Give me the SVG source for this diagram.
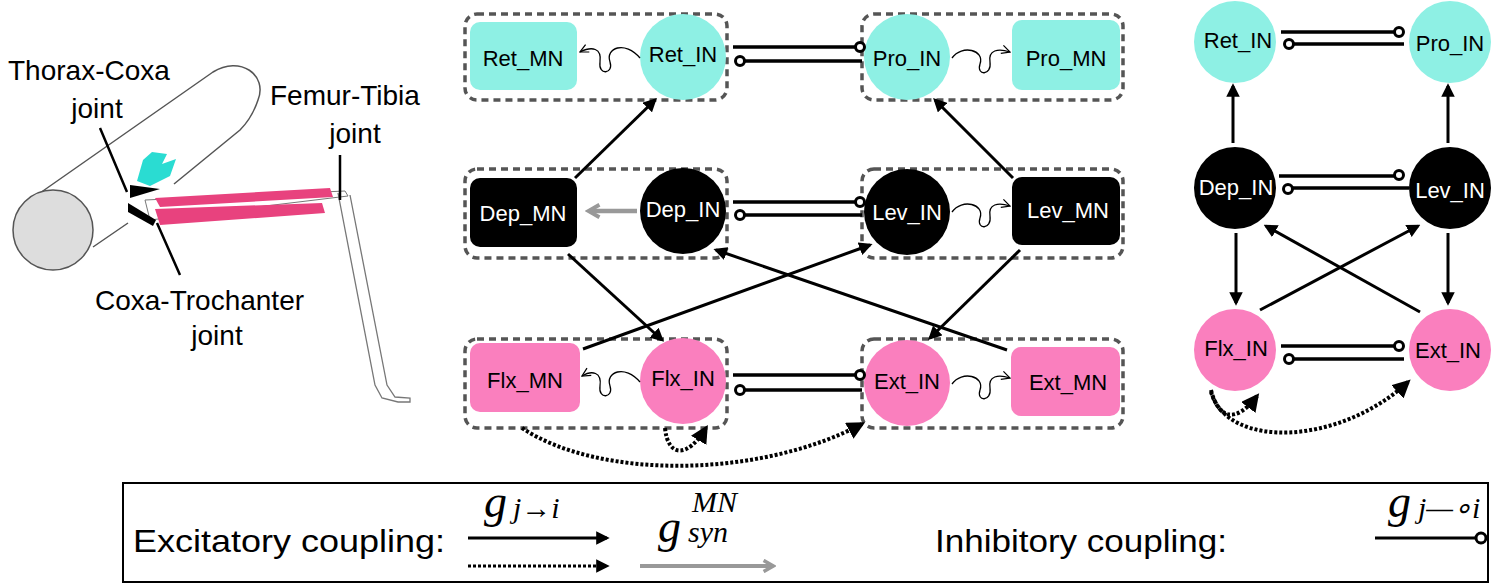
<svg xmlns="http://www.w3.org/2000/svg" width="1500" height="587" viewBox="0 0 1500 587">
<style>
text{font-family:"Liberation Sans",Arial,sans-serif}
.lab{font-size:28px;fill:#000}
.n{font-size:22px;text-anchor:middle;dominant-baseline:central}
.w{fill:#fff}
.cy{fill:#8ef0e4}.pk{fill:#fa7fbe}.bk{fill:#000}
.grp{fill:none;stroke:#555;stroke-width:3.5;stroke-dasharray:7,5}
.ex{stroke:#000;stroke-width:3;fill:none;marker-end:url(#ah)}
.dot{stroke:#000;stroke-width:4;fill:none;stroke-dasharray:3,2;marker-end:url(#ah)}
.inh{stroke:#000;stroke-width:3.5;fill:none}
.oc{fill:#fff;stroke:#000;stroke-width:3}
.curl{stroke:#000;stroke-width:1.3;fill:none;marker-end:url(#oa)}
.math{font-family:"Liberation Serif","Times New Roman",serif;font-style:italic}
</style>
<defs>
<marker id="ah" viewBox="0 0 10 10" refX="8" refY="5" markerWidth="4.5" markerHeight="4.5" orient="auto"><path d="M0,0 L10,5 L0,10 Z" fill="#000"/></marker>
<marker id="ga" viewBox="0 0 10 10" refX="7" refY="5" markerWidth="3.5" markerHeight="3.5" orient="auto"><path d="M1,1 L8,5 L1,9" fill="none" stroke="#999" stroke-width="2.5"/></marker>
<marker id="oa" viewBox="0 0 10 10" refX="9" refY="5" markerWidth="8" markerHeight="8" orient="auto"><path d="M1,1 L9,5 L1,9" fill="none" stroke="#000" stroke-width="1.2"/></marker>
</defs>
<rect width="1500" height="587" fill="#fff"/>

<g id="leg-drawing">
<path d="M40,193 L213,72 C240,55 268,75 258,100 C254,112 248,122 240,130 L174,184 M128,223 L93,247" fill="none" stroke="#555" stroke-width="1.5"/>
<circle cx="53" cy="230" r="40" fill="#ddd" stroke="#555" stroke-width="1.5"/>
<path d="M145,200 L345,191 L348,196 L150,220 Z" fill="#fff" stroke="#777" stroke-width="1"/>
<path d="M338,193 L375,385 L382,398 L398,402 L410,402 L410,398 L395,397 L387,385 L350,195" fill="none" stroke="#777" stroke-width="1.3"/>
<polygon points="137,181 143,160 152,152 167,154 162,164 176,159 170,176 150,186" fill="#2adcd2"/>
<polygon points="130,185 160,189 130,198" fill="#000"/>
<polygon points="128,203 156,220 153,226 128,212" fill="#000"/>
<polygon points="155,198 330,188 333,197 160,207" fill="#e8427e"/>
<polygon points="155,209 322,203 325,213 160,225" fill="#e8427e"/>
<path d="M100,128 L127,192 M157,223 L180,275 M340,155 L340,200" stroke="#000" stroke-width="2.5"/>
<text class="lab" x="8" y="80">Thorax-Coxa</text>
<text class="lab" x="97" y="118" text-anchor="middle">joint</text>
<text class="lab" x="270" y="105">Femur-Tibia</text>
<text class="lab" x="355" y="143" text-anchor="middle">joint</text>
<text class="lab" x="95" y="310">Coxa-Trochanter</text>
<text class="lab" x="217" y="345" text-anchor="middle">joint</text>
</g>

<g id="groups">
<rect class="grp" x="465" y="14" width="262" height="86" rx="12"/>
<rect class="grp" x="862" y="14" width="261" height="86" rx="12"/>
<rect class="grp" x="465" y="169" width="262" height="89" rx="12"/>
<rect class="grp" x="862" y="169" width="261" height="89" rx="12"/>
<rect class="grp" x="465" y="339" width="262" height="89" rx="12"/>
<rect class="grp" x="862" y="339" width="261" height="89" rx="12"/>
</g>

<g id="Ret_MN"><rect class="cy" x="470" y="22" width="107" height="68" rx="10"/><text class="n" x="523" y="58">Ret_MN</text></g>
<g id="Ret_IN"><circle class="cy" cx="683" cy="57" r="43"/><text class="n" x="683" y="54">Ret_IN</text></g>
<g id="Pro_IN"><circle class="cy" cx="907" cy="57" r="43"/><text class="n" x="907" y="58">Pro_IN</text></g>
<g id="Pro_MN"><rect class="cy" x="1012" y="20" width="108" height="70" rx="10"/><text class="n" x="1066" y="58">Pro_MN</text></g>
<g id="Dep_MN"><rect class="bk" x="470" y="178" width="107" height="69" rx="10"/><text class="n w" x="523" y="213">Dep_MN</text></g>
<g id="Dep_IN"><circle class="bk" cx="683" cy="211" r="43"/><text class="n w" x="683" y="209">Dep_IN</text></g>
<g id="Lev_IN"><circle class="bk" cx="907" cy="212" r="43"/><text class="n w" x="907" y="212">Lev_IN</text></g>
<g id="Lev_MN"><rect class="bk" x="1012" y="177" width="108" height="68" rx="10"/><text class="n w" x="1068" y="210">Lev_MN</text></g>
<g id="Flx_MN"><rect class="pk" x="470" y="343" width="110" height="69" rx="10"/><text class="n" x="525" y="380">Flx_MN</text></g>
<g id="Flx_IN"><circle class="pk" cx="683" cy="381" r="43"/><text class="n" x="683" y="378">Flx_IN</text></g>
<g id="Ext_IN"><circle class="pk" cx="907" cy="383" r="43"/><text class="n" x="907" y="381">Ext_IN</text></g>
<g id="Ext_MN"><rect class="pk" x="1011" y="347" width="109" height="69" rx="10"/><text class="n" x="1068" y="382">Ext_MN</text></g>

<g id="R_Ret_IN"><circle class="cy" cx="1235" cy="42" r="41"/><text class="n" x="1238" y="40">Ret_IN</text></g>
<g id="R_Pro_IN"><circle class="cy" cx="1450" cy="42" r="41"/><text class="n" x="1450" y="43">Pro_IN</text></g>
<g id="R_Dep_IN"><circle class="bk" cx="1235" cy="188" r="41"/><text class="n w" x="1236" y="187">Dep_IN</text></g>
<g id="R_Lev_IN"><circle class="bk" cx="1450" cy="188" r="41"/><text class="n w" x="1450" y="190">Lev_IN</text></g>
<g id="R_Flx_IN"><circle class="pk" cx="1235" cy="350" r="41"/><text class="n" x="1236" y="348">Flx_IN</text></g>
<g id="R_Ext_IN"><circle class="pk" cx="1450" cy="350" r="41"/><text class="n" x="1448" y="350">Ext_IN</text></g>

<g id="connectors">
<path class="inh" d="M733,47 L856,47 M744,61 L862,61 M733,202 L856,202 M744,215 L862,215 M733,375 L856,375 M744,390 L862,390"/>
<circle class="oc" cx="860" cy="47" r="4.5"/><circle class="oc" cx="740" cy="61" r="4.5"/>
<circle class="oc" cx="860" cy="202" r="4.5"/><circle class="oc" cx="740" cy="215" r="4.5"/>
<circle class="oc" cx="860" cy="375" r="4.5"/><circle class="oc" cx="740" cy="390" r="4.5"/>
<path class="curl" d="M640,58 C625,40 605,48 610,62 C614,74 598,76 600,62 C602,48 592,46 580,52"/>
<path class="curl" d="M952,58 C962,44 985,50 980,64 C976,76 992,76 990,62 C988,50 998,48 1010,52"/>
<path class="curl" d="M952,212 C962,198 985,204 980,218 C976,230 992,230 990,216 C988,204 998,202 1010,206"/>
<path class="curl" d="M640,382 C625,364 605,372 610,386 C614,398 598,400 600,386 C602,372 592,370 582,376"/>
<path class="curl" d="M952,384 C962,370 985,376 980,390 C976,402 992,402 990,388 C988,376 998,374 1010,378"/>
<path class="ex" d="M575,178 L655,100"/>
<path class="ex" d="M1013,178 L935,100"/>
<path class="ex" d="M568,254 L662,340"/>
<path class="ex" d="M583,349 L870,245"/>
<path class="ex" d="M1007,350 L716,250"/>
<path class="ex" d="M1020,250 L930,338"/>
<path d="M637,211 L590,211" stroke="#999" stroke-width="4.5" fill="none" marker-end="url(#ga)"/>
<path class="dot" d="M522,428 C600,480 760,478 862,424"/>
<path class="dot" d="M665,428 C668,458 688,458 706,428"/>
<path class="inh" d="M1281,32 L1396,32 M1288,44 L1404,44 M1279,176 L1396,176 M1288,188 L1409,188 M1281,346 L1396,346 M1288,359 L1404,359"/>
<circle class="oc" cx="1399" cy="32" r="4.5"/><circle class="oc" cx="1289" cy="44" r="4.5"/>
<circle class="oc" cx="1399" cy="175" r="4.5"/><circle class="oc" cx="1288" cy="189" r="4.5"/>
<circle class="oc" cx="1399" cy="346" r="4.5"/><circle class="oc" cx="1289" cy="359" r="4.5"/>
<path class="ex" d="M1233,143 L1233,86"/>
<path class="ex" d="M1448,143 L1448,86"/>
<path class="ex" d="M1236,233 L1236,303"/>
<path class="ex" d="M1448,233 L1448,303"/>
<path class="ex" d="M1260,310 L1418,226"/>
<path class="ex" d="M1420,312 L1266,226"/>
<path class="dot" d="M1211,390 C1218,418 1235,425 1257,396"/>
<path class="dot" d="M1211,392 C1228,450 1340,445 1408,382"/>
</g>

<g id="legend">
<rect x="123" y="483" width="1365" height="99" fill="none" stroke="#000" stroke-width="2"/>
<text x="133" y="552" font-size="32" textLength="312" lengthAdjust="spacingAndGlyphs">Excitatory coupling:</text>
<text class="math" x="484" y="517" font-size="46">g</text>
<text class="math" x="513" y="518" font-size="30">j→i</text>
<path class="ex" d="M468,538 L607,538"/>
<path class="dot" d="M468,566 L607,566" style="stroke-width:3"/>
<text class="math" x="658" y="542" font-size="46">g</text>
<text class="math" x="692" y="512" font-size="30">MN</text>
<text class="math" x="688" y="542" font-size="30">syn</text>
<path d="M640,566 L772,566" stroke="#999" stroke-width="4" fill="none" marker-end="url(#ga)"/>
<text x="935" y="552" font-size="32" textLength="292" lengthAdjust="spacingAndGlyphs">Inhibitory coupling:</text>
<text class="math" x="1388" y="517" font-size="46">g</text>
<text class="math" x="1418" y="518" font-size="30">j—∘i</text>
<path class="inh" d="M1375,538 L1476,538" style="stroke-width:3"/>
<circle class="oc" cx="1481" cy="538" r="5"/>
</g>
</svg>
